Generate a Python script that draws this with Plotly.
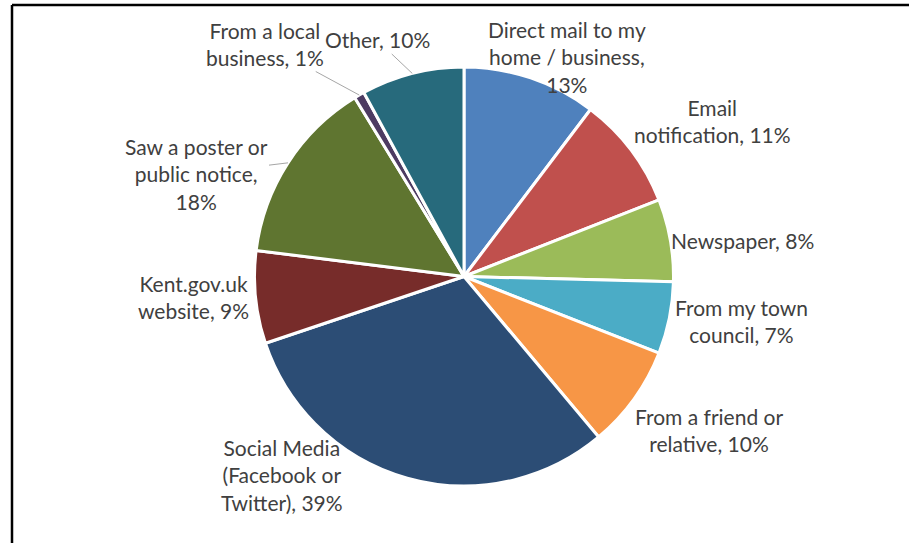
import math
import plotly.graph_objects as go

# ---- data ----
categories = [
    "Direct mail to my<br>home / business,",
    "Email<br>notification,",
    "Newspaper,",
    "From my town<br>council,",
    "From a friend or<br>relative,",
    "Social Media<br>(Facebook or<br>Twitter),",
    "Kent.gov.uk<br>website,",
    "Saw a poster or<br>public notice,",
    "From a local<br>business,",
    "Other,",
]
values = [13, 11, 8, 7, 10, 39, 9, 18, 1, 10]

# ---- style ----
colors = ["#4F81BD", "#C0504D", "#9BBB59", "#4BACC6", "#F79646",
          "#2C4D75", "#772C2A", "#5F7530", "#4D3B62", "#276A7C"]
W, H = 909, 543
CX, CY, R = 464, 276.5, 209.5
# label centres in pixels (text placement only)
label_xy = [(567, 57), (712, 121), (742, 240), (741, 321), (709, 430),
            (282, 475), (193, 297), (196, 174), (265, 44), (377, 40)]
leader = [False, False, False, False, False, False, False, True, True, True]
sep = ["<br>", " ", " ", " ", " ", " ", " ", "<br>", " ", " "]

FONT = "Lato, Carlito, Calibri, sans-serif"
TXT = "#404040"
FS = 21

fig = go.Figure(go.Pie(
    labels=[c.replace("<br>", " ") for c in categories],
    values=values,
    sort=False,
    direction="clockwise",
    rotation=0,
    marker=dict(colors=colors, line=dict(color="white", width=3)),
    textinfo="none",
    hoverinfo="label+value",
    showlegend=False,
    domain=dict(x=[(CX - R) / W, (CX + R) / W], y=[1 - (CY + R) / H, 1 - (CY - R) / H]),
))

total = sum(values)
annotations = []
cum = 0
for i, (cat, v) in enumerate(zip(categories, values)):
    mid = (cum + v / 2) / total * 2 * math.pi
    cum += v
    text = f"{cat}{sep[i]}{v}%"
    lx, ly = label_xy[i]
    if leader[i]:
        tx = CX + R * math.sin(mid)
        ty = CY - R * math.cos(mid)
        annotations.append(dict(
            x=tx / W, y=1 - ty / H, xref="paper", yref="paper",
            ax=lx - tx, ay=ly - ty, text=text, showarrow=True,
            arrowhead=0, arrowwidth=1, arrowcolor="#A6A6A6",
            align="center", font=dict(family=FONT, size=FS, color=TXT),
        ))
    else:
        annotations.append(dict(
            x=lx / W, y=1 - ly / H, xref="paper", yref="paper",
            xanchor="center", yanchor="middle", text=text, showarrow=False,
            align="center", font=dict(family=FONT, size=FS, color=TXT),
        ))

fx, fy = 12 / W, 1 - 5 / H
fig.update_layout(
    width=W, height=H,
    margin=dict(l=0, r=0, t=0, b=0),
    paper_bgcolor="white",
    plot_bgcolor="white",
    annotations=annotations,
    shapes=[
        dict(type="line", xref="paper", yref="paper", x0=fx, x1=1.01, y0=fy, y1=fy,
             line=dict(color="black", width=2.5)),
        dict(type="line", xref="paper", yref="paper", x0=fx, x1=fx, y0=fy, y1=-0.01,
             line=dict(color="black", width=2.5)),
    ],
)

fig.write_html("out.html", config={"displayModeBar": False},
               post_script="document.body.style.margin='0';document.body.style.overflow='hidden';")
